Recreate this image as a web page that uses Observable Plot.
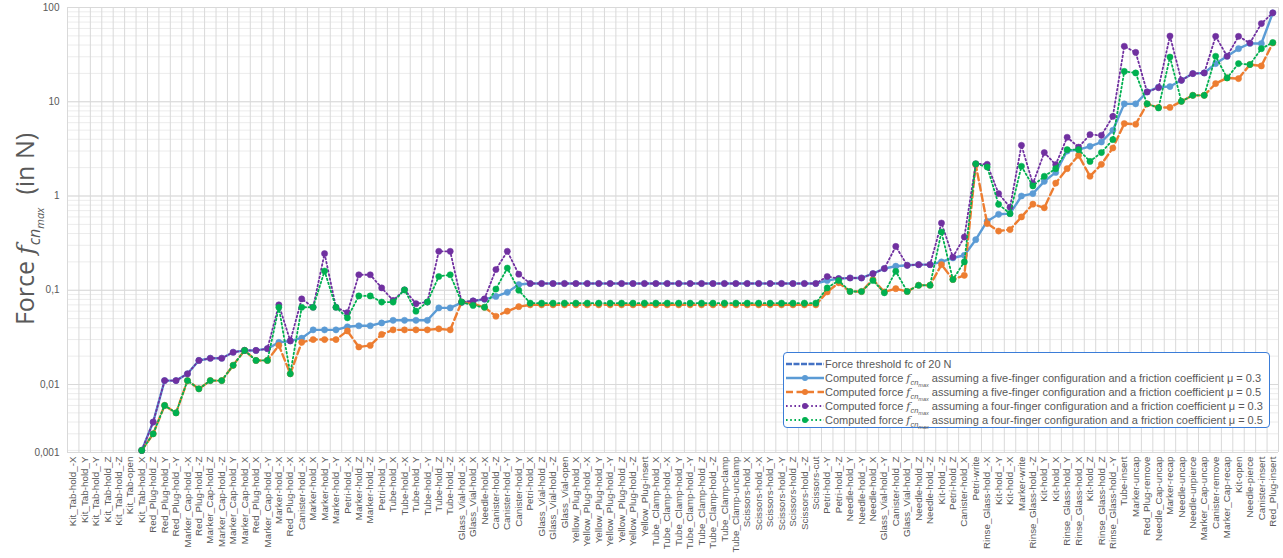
<!DOCTYPE html>
<html><head><meta charset="utf-8">
<script src="https://cdn.jsdelivr.net/npm/d3@7"></script>
<script src="https://cdn.jsdelivr.net/npm/@observablehq/plot@0.6"></script>
<style>
body{margin:0;background:#fff;font-family:"Liberation Sans",Arial,sans-serif;}
#wrap{position:relative;width:1283px;height:558px;overflow:hidden;}
#legend{position:absolute;left:783px;top:352px;width:487px;height:76px;border:1px solid #3b7dd8;border-radius:4px;background:#fff;box-sizing:border-box;font-size:11px;color:#595959;}
.row{position:absolute;left:1px;height:14px;line-height:14px;white-space:nowrap;}
.row svg{position:absolute;left:0;top:2px;}
.row .txt{position:absolute;left:40px;top:0;}
.sub1{font-size:7.5px;position:relative;top:3px;font-style:italic;}
.sub2{font-size:5.5px;position:relative;top:2px;font-style:italic;}
</style></head><body><div id="wrap"></div><script>
const categories = ["Kit_Tab-hold_-X","Kit_Tab-hold_Y","Kit_Tab-hold_-Y","Kit_Tab-hold_Z","Kit_Tab-hold_-Z","Kit_Tab-open","Kit_Tab-hold_X","Red_Plug-hold_Z","Red_Plug-hold_Y","Red_Plug-hold_-Y","Marker_Cap-hold_-X","Red_Plug-hold_-Z","Marker_Cap-hold_Z","Marker_Cap-hold_-Z","Marker_Cap-hold_Y","Marker_Cap-hold_X","Red_Plug-hold_X","Marker_Cap-hold_-Y","Marker-hold_-X","Red_Plug-hold_-X","Canister-hold_-X","Marker-hold_X","Marker-hold_Y","Marker-hold_-Y","Petri-hold_-X","Marker-hold_Z","Marker-hold_-Z","Petri-hold_Y","Tube-hold_X","Tube-hold_-X","Tube-hold_Y","Tube-hold_-Y","Tube-hold_Z","Tube-hold_-Z","Glass_Vial-hold_-X","Glass_Vial-hold_X","Needle-hold_-X","Canister-hold_-Z","Canister-hold_-Y","Canister-hold_Y","Petri-hold_X","Glass_Vial-hold_Z","Glass_Vial-hold_-Z","Glass_Vial-open","Yellow_Plug-hold_X","Yellow_Plug-hold_-X","Yellow_Plug-hold_Y","Yellow_Plug-hold_-Y","Yellow_Plug-hold_Z","Yellow_Plug-hold_-Z","Yellow_Plug-insert","Tube_Clamp-hold_X","Tube_Clamp-hold_-X","Tube_Clamp-hold_Y","Tube_Clamp-hold_-Y","Tube_Clamp-hold_Z","Tube_Clamp-hold_-Z","Tube_Clamp-clamp","Tube_Clamp-unclamp","Scissors-hold_X","Scissors-hold_-X","Scissors-hold_Y","Scissors-hold_-Y","Scissors-hold_Z","Scissors-hold_-Z","Scissors-cut","Petri-hold_-Y","Petri-hold_-Z","Needle-hold_Y","Needle-hold_-Y","Needle-hold_X","Glass_Vial-hold_-Y","Canister-hold_Z","Glass_Vial-hold_Y","Needle-hold_Z","Needle-hold_-Z","Kit-hold_-Z","Petri-hold_Z","Canister-hold_X","Petri-write","Rinse_Glass-hold_-X","Kit-hold_-Y","Kit-hold_-X","Marker-write","Rinse_Glass-hold_-Z","Kit-hold_Y","Kit-hold_X","Rinse_Glass-hold_Y","Rinse_Glass-hold_X","Kit-hold_Z","Rinse_Glass-hold_Z","Rinse_Glass-hold_-Y","Tube-insert","Marker-uncap","Red_Plug-remove","Needle_Cap-uncap","Marker-recap","Needle-uncap","Needle-unpierce","Marker_Cap-uncap","Canister-remove","Marker_Cap-recap","Kit-open","Needle-pierce","Canister-insert","Red_Plug-insert"];

const fiveFingerMu03 = [null,null,null,null,null,null,
0.002,0.004,0.011,0.011,0.013,0.018,0.019,0.019,0.022,0.023,
0.023,0.024,0.028,0.029,0.031,0.038,0.038,0.038,0.041,0.042,
0.042,0.045,0.048,0.048,0.048,0.048,0.065,0.065,0.074,0.077,
0.080,0.086,0.095,0.115,0.118,0.118,0.118,0.118,0.118,0.118,
0.118,0.118,0.118,0.118,0.118,0.118,0.118,0.118,0.118,0.118,
0.118,0.118,0.118,0.118,0.118,0.118,0.118,0.118,0.118,0.118,
0.127,0.133,0.135,0.135,0.150,0.170,0.180,0.184,0.187,0.187,
0.200,0.220,0.235,0.344,0.540,0.640,0.650,1.00,1.06,1.43,
1.78,3.0,3.1,3.37,3.74,4.98,9.5,9.5,12.7,14.3,
14.5,16.9,19.9,20.2,25.4,30.4,36.6,41.5,41.5,87.7];

const fiveFingerMu05 = [null,null,null,null,null,null,
0.002,0.003,0.006,0.005,0.011,0.009,0.011,0.011,0.016,0.023,
0.018,0.018,0.026,0.013,0.028,0.030,0.030,0.030,0.037,0.025,
0.026,0.034,0.038,0.038,0.038,0.038,0.039,0.038,0.075,0.072,
0.066,0.053,0.060,0.067,0.070,0.070,0.070,0.070,0.070,0.070,
0.070,0.070,0.070,0.070,0.070,0.070,0.070,0.070,0.070,0.070,
0.070,0.070,0.070,0.070,0.070,0.070,0.070,0.070,0.070,0.070,
0.096,0.120,0.097,0.097,0.130,0.096,0.104,0.097,0.113,0.113,
0.187,0.130,0.144,2.15,0.51,0.425,0.44,0.60,0.82,0.75,
1.37,1.95,2.7,1.62,2.17,3.23,5.87,5.77,9.5,8.7,
8.7,10.1,11.7,11.7,15.6,17.9,17.6,24.8,24.0,42.0];

const fourFingerMu03 = [null,null,null,null,null,null,
0.002,0.004,0.011,0.011,0.013,0.018,0.019,0.019,0.022,0.023,
0.023,0.024,0.070,0.029,0.081,0.066,0.245,0.066,0.058,0.146,
0.146,0.106,0.078,0.101,0.072,0.075,0.259,0.259,0.075,0.077,
0.081,0.166,0.259,0.148,0.118,0.118,0.118,0.118,0.118,0.118,
0.118,0.118,0.118,0.118,0.118,0.118,0.118,0.118,0.118,0.118,
0.118,0.118,0.118,0.118,0.118,0.118,0.118,0.118,0.118,0.118,
0.140,0.133,0.135,0.135,0.150,0.170,0.292,0.184,0.187,0.187,
0.517,0.225,0.367,2.2,2.17,1.06,0.76,3.45,1.35,2.89,
2.15,4.2,3.3,4.48,4.4,7.0,38.8,33.4,12.7,14.1,
49.8,16.9,19.9,20.2,49.4,30.4,49.4,42.0,67.5,87.7];

const fourFingerMu05 = [null,null,null,null,null,null,
0.002,0.003,0.006,0.005,0.011,0.009,0.011,0.011,0.016,0.023,
0.018,0.018,0.066,0.013,0.066,0.066,0.160,0.066,0.051,0.087,
0.087,0.075,0.075,0.101,0.060,0.075,0.140,0.146,0.075,0.069,
0.066,0.103,0.172,0.100,0.073,0.073,0.073,0.073,0.073,0.073,
0.073,0.073,0.073,0.073,0.073,0.073,0.073,0.073,0.073,0.073,
0.073,0.073,0.073,0.073,0.073,0.073,0.073,0.073,0.073,0.073,
0.106,0.127,0.097,0.097,0.127,0.094,0.159,0.097,0.113,0.113,
0.415,0.130,0.200,2.2,2.03,0.816,0.65,2.07,1.28,1.62,
1.95,3.1,3.1,2.33,2.89,3.97,21.0,20.2,9.5,8.6,
29.8,10.1,11.7,11.7,30.4,17.9,25.4,24.8,36.6,42.5];

const thresholdForce = 20;
const yTickValues = [0.01, 0.1, 1, 10, 100];
const yBottomLabel = "0,001";

const series = [
  {key:"b", values: fiveFingerMu03, color:"#5B9BD5", dash:null, width:2.4, r:3.1, label:"assuming a five-finger configuration and a friction coefficient μ = 0.3"},
  {key:"o", values: fiveFingerMu05, color:"#ED7D31", dash:"7,3.5", width:2.4, r:3.1, label:"assuming a five-finger configuration and a friction coefficient μ = 0.5"},
  {key:"p", values: fourFingerMu03, color:"#7030A0", dash:"1.6,2.6", width:1.8, r:3.1, label:"assuming a four-finger configuration and a friction coefficient μ = 0.3"},
  {key:"g", values: fourFingerMu05, color:"#00B050", dash:"1.6,2.6", width:1.8, r:3.1, label:"assuming a four-finger configuration and a friction coefficient μ = 0.5"}
];

const data = categories.map((c, i) => {
  const o = {c};
  series.forEach(s => o[s.key] = s.values[i]);
  return o;
});

const W = 1283, H = 558, mL = 67, mR = 5, mT = 7, mB = 106;
const step = (W - mL - mR) / categories.length;
const yMin = 0.0019;
const gridAll = d3.scaleLog().domain([yMin, 100]).ticks();
const fmt = d => d === yMin ? yBottomLabel : String(d).replace(".", ",");

const marks = [
  Plot.ruleY(gridAll, {stroke:"#ececec", strokeWidth:1}),
  Plot.ruleY(yTickValues, {stroke:"#d9d9d9", strokeWidth:1}),
  Plot.ruleX(categories, {x: d => d, dx: -step/2, stroke:"#d9d9d9", y1: yMin, y2: 100}),
  Plot.ruleX([categories[categories.length-1]], {x: d => d, dx: step/2, stroke:"#d9d9d9", y1: yMin, y2: 100}),
  Plot.ruleY([yMin], {stroke:"#d9d9d9"}),
  Plot.ruleY([thresholdForce], {x1: categories[0], x2: categories[categories.length-1], stroke:"#4472C4", strokeWidth:2.3})
];
series.forEach(s => {
  marks.push(Plot.lineY(data, {x:"c", y:s.key, stroke:s.color, strokeWidth:s.width, strokeDasharray:s.dash}));
  marks.push(Plot.dot(data, {x:"c", y:s.key, r:s.r, fill:s.color, stroke:s.color, strokeWidth:0.5}));
});

const chart = Plot.plot({
  width: W, height: H, marginLeft: mL, marginRight: mR, marginTop: mT, marginBottom: mB,
  style: {fontFamily:'"Liberation Sans", Arial, sans-serif', fontSize:"9.8px", color:"#595959", background:"#fff", overflow:"visible"},
  x: {type:"point", domain: categories, padding:0.5, align:0.5, tickSize:0, tickPadding:4, tickRotate:-90, label:null},
  y: {type:"log", domain:[yMin, 100], ticks:[yMin, ...yTickValues], tickFormat: fmt, tickSize:0, tickPadding:8, label:null},
  marks
});
document.getElementById("wrap").appendChild(chart);

// y axis title
const svg = d3.select(chart);
svg.selectAll('g[aria-label="y-axis tick label"] text').style("font-size","10px");
const t = svg.append("text")
  .attr("transform", `translate(34,229) rotate(-90)`)
  .attr("text-anchor","middle")
  .attr("fill","#595959")
  .style("font-size","25px")
  .style("font-family",'"Open Sans","Liberation Sans",sans-serif');
t.append("tspan").text("Force ");
t.append("tspan").attr("font-style","italic").style("font-family",'"DejaVu Serif",serif').text("f");
t.append("tspan").attr("dy", 6).style("font-size","16px").attr("font-style","italic").text("cn");
t.append("tspan").attr("dy", 4).style("font-size","11px").attr("font-style","italic").text("max");
t.append("tspan").attr("dy", -10).text("  (in N)");

// legend
const lg = d3.select("#wrap").append("div").attr("id","legend");
const rows = [{color:"#4472C4", dash:"6,1.5", width:2.3, marker:false, html:"Force threshold fc of 20 N"}]
  .concat(series.map(s => ({color:s.color, dash:s.dash, width:s.width, marker:true,
     html:`Computed force <i style="font-family:'DejaVu Serif',serif">f</i><span class="sub1">cn<span class="sub2">max</span></span> ${s.label}`})));
rows.forEach((r, i) => {
  const row = lg.append("div").attr("class","row").style("top", (4 + i*14) + "px");
  const sw = row.append("svg").attr("width",40).attr("height",10);
  sw.append("line").attr("x1",1).attr("x2",39).attr("y1",5).attr("y2",5)
    .attr("stroke",r.color).attr("stroke-width",r.width).attr("stroke-dasharray",r.dash);
  if (r.marker) sw.append("circle").attr("cx",20).attr("cy",5).attr("r",3).attr("fill",r.color);
  row.append("span").attr("class","txt").html(r.html);
});
</script></body></html>
